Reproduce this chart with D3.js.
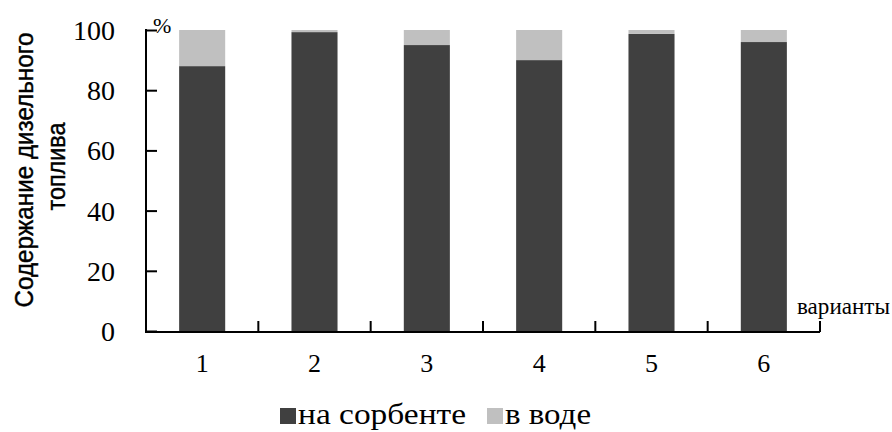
<!DOCTYPE html>
<html><head><meta charset="utf-8">
<script src="https://cdn.jsdelivr.net/npm/d3@7"></script>
<style>body{margin:0;background:#fff}svg{display:block}</style>
</head><body>
<svg id="c" width="892" height="432"></svg>
<script>
const categories = ["1","2","3","4","5","6"];
const onSorbent = [88, 99.3, 95, 90, 98.7, 96];
const inWater = [12, 0.7, 5, 10, 1.3, 4];
const yTicks = [0,20,40,60,80,100];
const seriesNames = ["на сорбенте","в воде"];
const colors = ["#404040","#c0c0c0"];

const svg = d3.select("#c");
const x0 = 146, x1 = 820, yTop = 30, yBot = 331;
const x = d3.scaleBand().domain(categories).range([x0,x1]).paddingInner(0.59).paddingOuter(0.295);
const y = d3.scaleLinear().domain([0,100]).range([yBot,yTop]);

const data = categories.map((c,i)=>({cat:c, a:onSorbent[i], b:inWater[i]}));
const stack = d3.stack().keys(["a","b"])(data);
svg.append("g").selectAll("g").data(stack).join("g").attr("fill",(d,i)=>colors[i])
  .selectAll("rect").data(d=>d).join("rect")
  .attr("x",d=>x(d.data.cat)).attr("width",x.bandwidth())
  .attr("y",d=>y(d[1])).attr("height",d=>y(d[0])-y(d[1]));

const serif = "'Liberation Serif','Times New Roman',serif";
// y axis
const ya = svg.append("g").attr("transform",`translate(${x0},0)`)
  .call(d3.axisLeft(y).tickValues(yTicks).tickSize(-11).tickPadding(31));
ya.attr("font-family",null).attr("font-size",null);
ya.select(".domain").remove();
ya.selectAll("line").attr("stroke","#000").attr("stroke-width",2);
ya.selectAll("text").style("font-family",serif).style("font-size","28px").attr("fill","#000").attr("dy","0.34em");
svg.append("line").attr("x1",x0).attr("x2",x0).attr("y1",yTop-1).attr("y2",yBot+2).attr("stroke","#000").attr("stroke-width",2);

// x axis
svg.append("line").attr("x1",x0-1).attr("x2",x1).attr("y1",yBot+1).attr("y2",yBot+1).attr("stroke","#000").attr("stroke-width",2);
const step = x.step();
svg.append("g").selectAll("line").data(categories).join("line")
  .attr("x1",d=>x(d)+x.bandwidth()+step*x.paddingInner()/2)
  .attr("x2",d=>x(d)+x.bandwidth()+step*x.paddingInner()/2)
  .attr("y1",yBot+1).attr("y2",yBot-10).attr("stroke","#000").attr("stroke-width",2);
svg.append("g").selectAll("text").data(categories).join("text")
  .attr("x",d=>x(d)+x.bandwidth()/2).attr("y",372).attr("text-anchor","middle")
  .style("font-family",serif).style("font-size","26px").text(d=>d);

svg.append("text").attr("x",153).attr("y",33).style("font-family",serif).style("font-size","22px").text("%");
svg.append("text").attr("x",797).attr("y",314).style("font-family",serif).style("font-size","23px")
  .attr("textLength",93).attr("lengthAdjust","spacingAndGlyphs").text("варианты");

// y title
const sans = "'Liberation Sans',Arial,sans-serif";
const yt = svg.append("g").attr("transform","translate(0,170) rotate(-90)");
yt.append("text").attr("x",0).attr("y",33).attr("text-anchor","middle").style("font-family",sans).style("font-size","25px")
  .attr("stroke","#000").attr("stroke-width",0.4)
  .attr("textLength",275).attr("lengthAdjust","spacingAndGlyphs").text("Содержание дизельного");
yt.append("text").attr("x",3.5).attr("y",65).attr("text-anchor","middle").style("font-family",sans).style("font-size","25px")
  .attr("stroke","#000").attr("stroke-width",0.4)
  .attr("textLength",88).attr("lengthAdjust","spacingAndGlyphs").text("топлива");

// legend
const lg = svg.append("g");
const lx = [280, 487];
const lw = [168, 86];
seriesNames.forEach((n,i)=>{
  lg.append("rect").attr("x",lx[i]).attr("y",408).attr("width",16).attr("height",16).attr("fill",colors[i]);
  lg.append("text").attr("x",lx[i]+18).attr("y",424).style("font-family",serif).style("font-size","30px")
    .attr("textLength",lw[i]).attr("lengthAdjust","spacingAndGlyphs").text(n);
});
</script>
</body></html>
